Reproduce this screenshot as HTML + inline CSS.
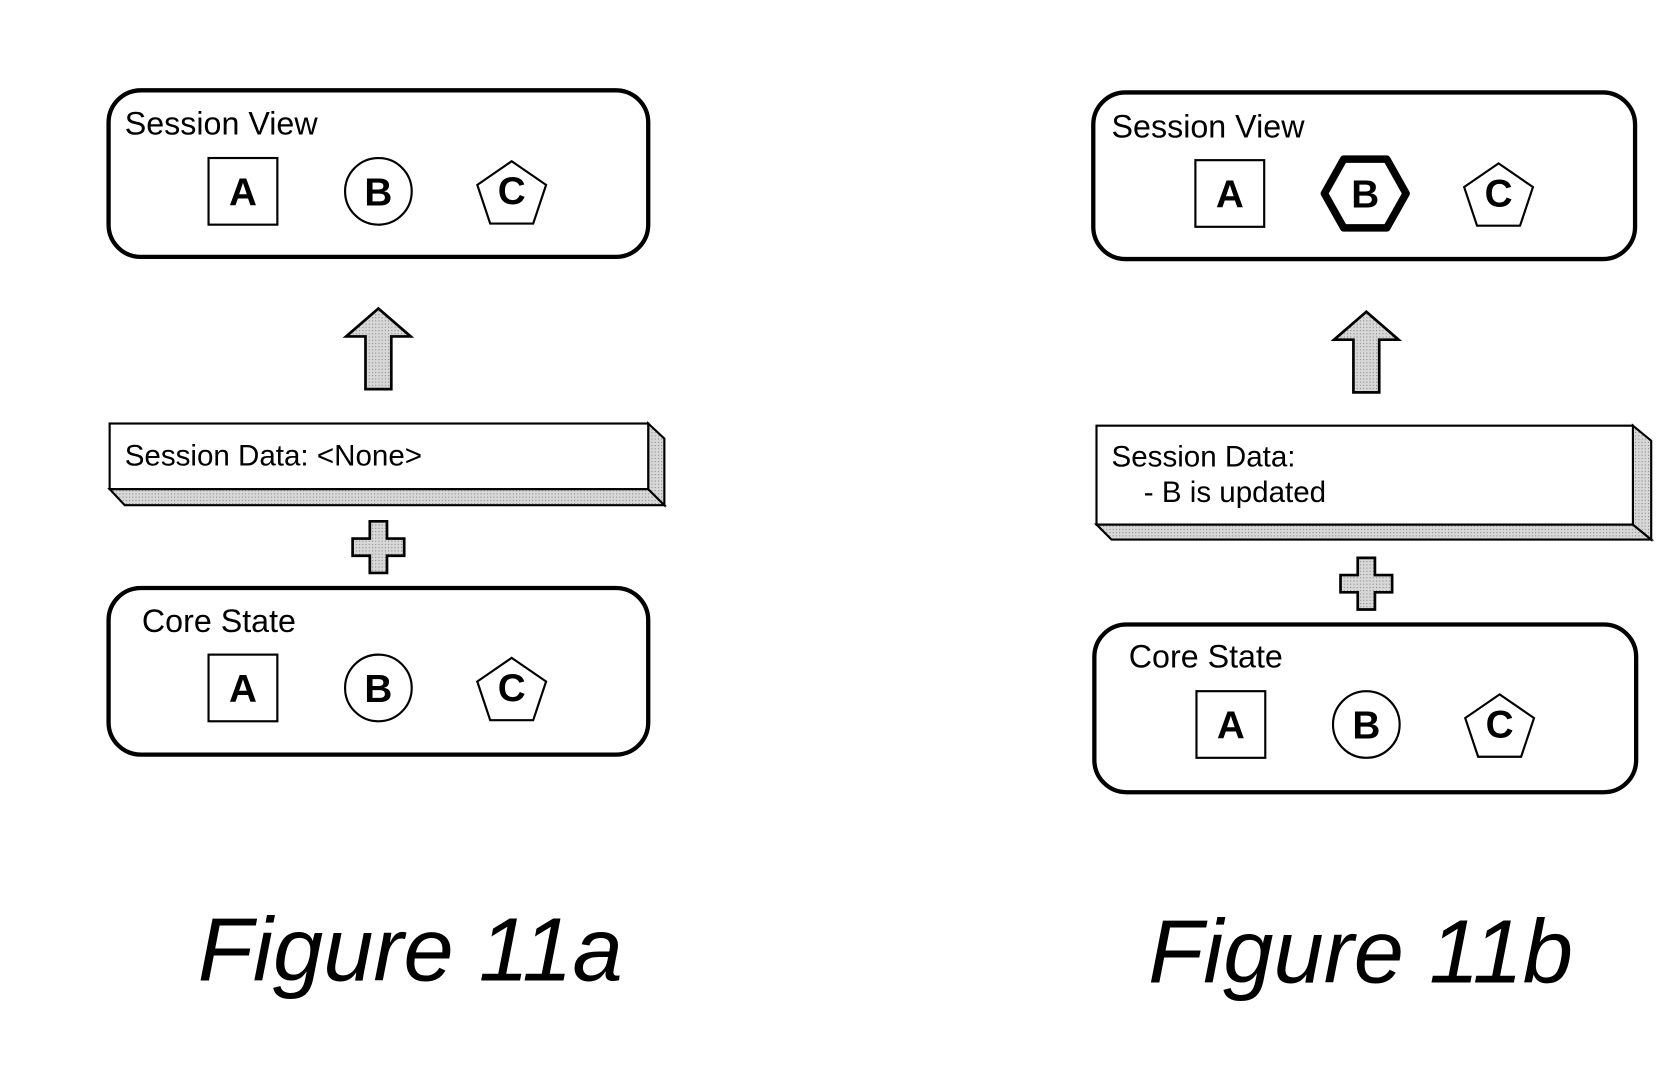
<!DOCTYPE html>
<html><head><meta charset="utf-8"><style>
html,body{margin:0;padding:0;background:#fff;}
svg{display:block}
text{font-family:"Liberation Sans",Arial,sans-serif;fill:#000}
</style></head><body>
<svg width="1677" height="1076" viewBox="0 0 1560 1001" preserveAspectRatio="none" xmlns="http://www.w3.org/2000/svg">
<defs>
<pattern id="dot" width="3" height="3" patternUnits="userSpaceOnUse">
<rect width="3" height="3" fill="#d8d8d8"/><rect width="1" height="1" fill="#888"/>
</pattern>
<g id="abc">
<rect x="-158" y="-31" width="64" height="62" fill="#fff" stroke="#000" stroke-width="2"/>
<text x="-126" y="13" font-size="36" font-weight="bold" text-anchor="middle">A</text>
<polygon points="124,-28 156,-6 144,30 104,30 92,-6" fill="#fff" stroke="#000" stroke-width="2"/>
<text x="124" y="12" font-size="36" font-weight="bold" text-anchor="middle">C</text>
</g>
<g id="circB">
<circle cx="0" cy="0" r="31" fill="#fff" stroke="#000" stroke-width="2"/>
<text x="0" y="13" font-size="36" font-weight="bold" text-anchor="middle">B</text>
</g>
<g id="arrow">
<polygon points="0,-38 30,-12 12,-12 12,37 -12,37 -12,-12 -30,-12" fill="url(#dot)" stroke="#000" stroke-width="2.5"/>
</g>
<g id="plus">
<polygon points="-8,-24 8,-24 8,-8 24,-8 24,8 8,8 8,24 -8,24 -8,8 -24,8 -24,-8 -8,-8" fill="url(#dot)" stroke="#000" stroke-width="2.5"/>
</g>
</defs>

<!-- Figure 11a -->
<rect x="101" y="84" width="502" height="155" rx="30" fill="#fff" stroke="#000" stroke-width="4"/>
<text x="116" y="125" font-size="30">Session View</text>
<g transform="translate(352,178)"><use href="#abc"/><use href="#circB"/></g>

<use href="#arrow" transform="translate(352,325)"/>

<polygon points="102,455 603,455 618,470 116,470" fill="url(#dot)" stroke="#000" stroke-width="2"/>
<polygon points="603,394 618,408 618,470 603,455" fill="url(#dot)" stroke="#000" stroke-width="2"/>
<rect x="102" y="394" width="501" height="61" fill="#fff" stroke="#000" stroke-width="2"/>
<text x="116" y="433" font-size="27.5">Session Data: &lt;None&gt;</text>

<use href="#plus" transform="translate(352,509)"/>

<rect x="101" y="547" width="502" height="155" rx="30" fill="#fff" stroke="#000" stroke-width="4"/>
<text x="132" y="588" font-size="30">Core State</text>
<g transform="translate(352,640)"><use href="#abc"/><use href="#circB"/></g>

<text x="184" y="912" font-size="84" font-style="italic">Figure 11a</text>

<!-- Figure 11b -->
<g transform="translate(-6,0)">
<rect x="1023" y="86" width="504" height="155" rx="30" fill="#fff" stroke="#000" stroke-width="4"/>
<text x="1040" y="128" font-size="30">Session View</text>
<g transform="translate(1276,180)"><use href="#abc"/>
<polygon points="-20,-32 20,-32 38,0 20,32 -20,32 -38,0" fill="#fff" stroke="#000" stroke-width="7" stroke-linejoin="round"/>
<text x="0" y="13" font-size="36" font-weight="bold" text-anchor="middle">B</text>
</g>

<use href="#arrow" transform="translate(1277,328)"/>

<polygon points="1026,488 1525,488 1542,502 1040,502" fill="url(#dot)" stroke="#000" stroke-width="2"/>
<polygon points="1525,396 1542,410 1542,502 1525,488" fill="url(#dot)" stroke="#000" stroke-width="2"/>
<rect x="1026" y="396" width="499" height="92" fill="#fff" stroke="#000" stroke-width="2"/>
<text x="1040" y="434" font-size="27.5">Session Data:</text>
<text x="1070" y="467" font-size="27.5">- B is updated</text>

<use href="#plus" transform="translate(1277,543)"/>

<rect x="1024" y="581" width="504" height="156" rx="30" fill="#fff" stroke="#000" stroke-width="4"/>
<text x="1056" y="621" font-size="30">Core State</text>
<g transform="translate(1277,674)"><use href="#abc"/><use href="#circB"/></g>

<text x="1074" y="914" font-size="84" font-style="italic">Figure 11b</text>
</g>
</svg>
</body></html>
